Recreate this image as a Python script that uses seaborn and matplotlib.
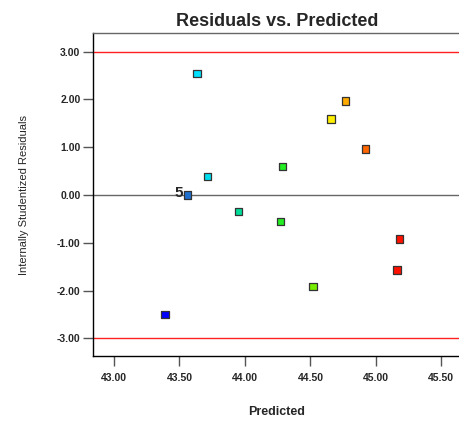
import matplotlib
matplotlib.use("Agg")
import matplotlib.pyplot as plt
import seaborn as sns
import pandas as pd

predicted = [43.634, 44.77, 44.656, 44.92, 44.288, 43.715, 43.56, 43.95, 44.27, 45.18, 45.16, 44.52, 43.39]
residuals = [2.54, 1.97, 1.59, 0.965, 0.59, 0.39, 0.0, -0.35, -0.55, -0.92, -1.57, -1.92, -2.50]
point_colors = ["#00e0ff", "#ffaa00", "#ffee00", "#ff6600", "#22ee22", "#00ddee", "#1f6fcf",
                "#00dd99", "#22ee22", "#ff1100", "#ff1100", "#77ee00", "#0000ff"]
limits = [3.0, -3.0]
x_ticks = [43.0, 43.5, 44.0, 44.5, 45.0, 45.5]
y_ticks = [3.0, 2.0, 1.0, 0.0, -1.0, -2.0, -3.0]
label_point = 6
label_text = "5"

sns.set_style("white")
plt.rcParams["font.family"] = ["Liberation Sans", "DejaVu Sans"]

df = pd.DataFrame({"Predicted": predicted, "Residual": residuals, "c": range(len(predicted))})

fig = plt.figure(figsize=(4.6, 4.26), dpi=100)
ax = fig.add_axes([0.2022, 0.1643, 0.80, 0.7582])

for y in limits:
    ax.axhline(y, color="#ff2020", lw=1.0, zorder=1)
ax.axhline(0, color="#666666", lw=1.0, zorder=1)

sns.scatterplot(data=df, x="Predicted", y="Residual", hue="c", palette=point_colors,
                marker="s", s=28, edgecolor="#333333", linewidth=0.9, legend=False, ax=ax, zorder=3)

ax.text(predicted[label_point] - 0.03, residuals[label_point] + 0.04, label_text,
        fontsize=11, fontweight="bold", ha="right", va="center")

ax.set_xlim(42.84, 45.65)
ax.set_ylim(-3.37, 3.39)
ax.set_xticks(x_ticks)
ax.set_xticklabels([f"{v:.2f}" for v in x_ticks], fontsize=7.5, fontweight="bold")
ax.set_yticks(y_ticks)
ax.set_yticklabels([f"{v:.2f}" for v in y_ticks], fontsize=7.5, fontweight="bold")
ax.tick_params(axis="both", which="both", direction="out", length=7, width=1, color="#555555",
               left=True, bottom=True)
ax.tick_params(axis="y", pad=2)
ax.tick_params(axis="x", pad=5)

for s in ["left", "bottom"]:
    ax.spines[s].set_color("black")
    ax.spines[s].set_linewidth(1.0)
ax.spines["top"].set_color("#666666")
ax.spines["top"].set_linewidth(1.0)
ax.spines["right"].set_visible(False)

ax.set_title("Residuals vs. Predicted", fontsize=13, fontweight="bold", pad=5)
ax.set_xlabel("Predicted", fontsize=9, fontweight="bold", labelpad=17)
ax.set_ylabel("Internally Studentized Residuals", fontsize=8, labelpad=20)

fig.savefig("out.png", dpi=100)
